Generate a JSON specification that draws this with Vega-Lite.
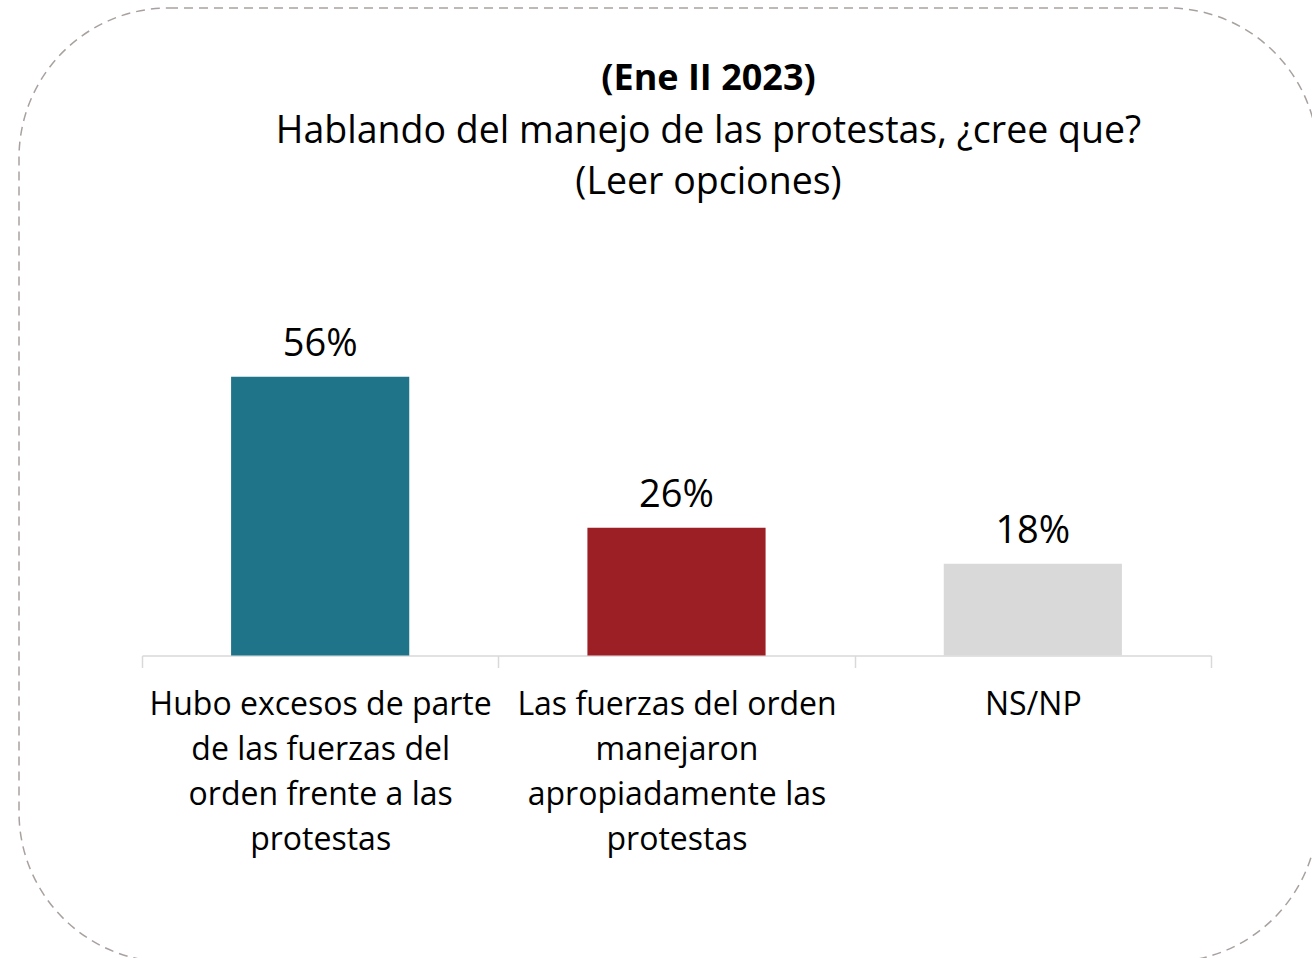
{
  "$schema": "https://vega.github.io/schema/vega-lite/v6.json",
  "width": 1299,
  "height": 954,
  "autosize": {"type": "none"},
  "padding": {"left": 19, "top": 8, "right": -6, "bottom": -4},
  "background": "white",
  "config": {
    "font": "Open Sans",
    "view": {"stroke": "#a9a19f", "strokeWidth": 1.5, "strokeDash": [9, 6], "cornerRadius": 150}
  },
  "title": {
    "text": "(Ene II 2023)",
    "subtitle": ["Hablando del manejo de las protestas, ¿cree que?", "(Leer opciones)"],
    "anchor": "middle",
    "frame": "group",
    "offset": -194,
    "dx": 40,
    "fontSize": 36,
    "fontWeight": "bold",
    "color": "black",
    "subtitleFontSize": 37.5,
    "subtitleColor": "black",
    "subtitleLineHeight": 51,
    "subtitlePadding": 15
  },
  "data": {
    "values": [
      {"cat": "Hubo excesos de parte|de las fuerzas del|orden frente a las|protestas", "value": 0.559},
      {"cat": "Las fuerzas del orden|manejaron|apropiadamente las|protestas", "value": 0.256},
      {"cat": "NS/NP", "value": 0.184}
    ]
  },
  "encoding": {
    "x": {
      "field": "cat",
      "type": "nominal",
      "sort": null,
      "scale": {"range": [123, 1192], "paddingInner": 0, "paddingOuter": 0},
      "axis": {
        "title": null,
        "domain": true,
        "domainColor": "#d9d9d9",
        "domainWidth": 1.5,
        "ticks": true,
        "tickBand": "extent",
        "tickColor": "#d9d9d9",
        "tickWidth": 1.5,
        "tickSize": 12,
        "labelAngle": 0,
        "labelFontSize": 32,
        "labelColor": "black",
        "labelLineHeight": 45,
        "labelPadding": 22,
        "labelLimit": 0,
        "labelOverlap": false,
        "labelBound": false,
        "labelExpr": "datum.value ? split(datum.value, '|') : ''",
        "offset": -306.5
      }
    }
  },
  "layer": [
    {
      "mark": {"type": "bar", "width": {"band": 0.5}},
      "encoding": {
        "y": {"field": "value", "type": "quantitative", "scale": {"domain": [-0.6146, 1.2984], "nice": false, "zero": false}, "axis": null},
        "y2": {"datum": 0},
        "color": {"field": "cat", "type": "nominal", "scale": {"range": ["#1f7489", "#9b1f24", "#d9d9d9"]}, "legend": null}
      }
    },
    {
      "mark": {"type": "text", "baseline": "alphabetic", "dy": -21, "fontSize": 38, "color": "black"},
      "encoding": {
        "y": {"field": "value", "type": "quantitative"},
        "text": {"field": "value", "type": "quantitative", "format": ".0%"}
      }
    }
  ]
}
